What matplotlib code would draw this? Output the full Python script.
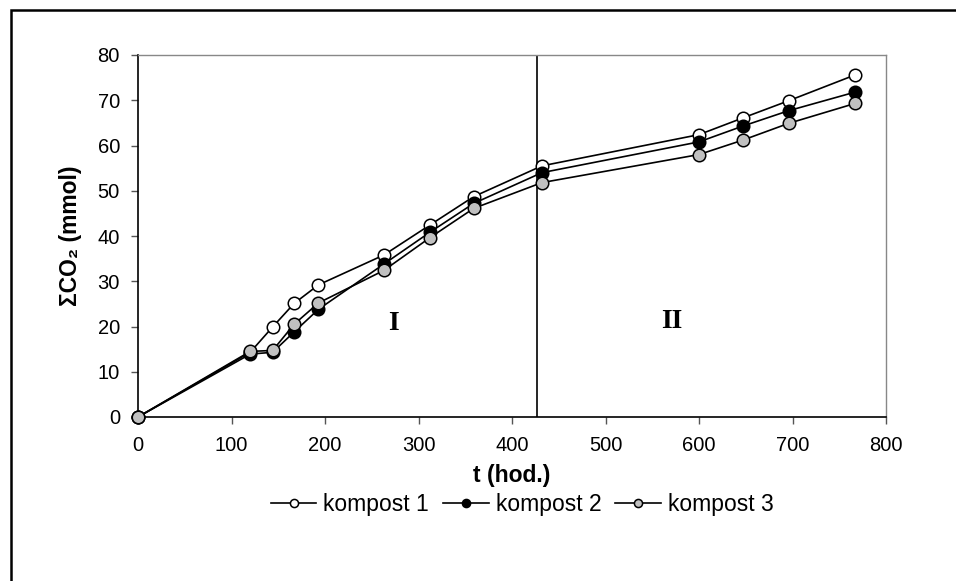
import matplotlib
matplotlib.use("Agg")
import matplotlib.pyplot as plt
from matplotlib.patches import Rectangle

# cas (hod.) a kumulativni CO2 (mmol)
t_hod = [0, 120, 144, 167, 193, 263, 312, 359, 432, 600, 647, 696, 767]
kompost_1 = [0, 14.3, 19.9, 25.1, 29.2, 35.8, 42.4, 48.7, 55.5, 62.4, 66.1, 69.9, 75.6]
kompost_2 = [0, 13.9, 14.3, 18.8, 23.8, 33.8, 40.8, 47.2, 54.0, 60.8, 64.3, 67.7, 71.8]
kompost_3 = [0, 14.5, 14.7, 20.5, 25.2, 32.4, 39.6, 46.1, 51.8, 58.0, 61.2, 64.9, 69.3]
labels = ["kompost 1", "kompost 2", "kompost 3"]
fills = ["white", "black", "#c0c0c0"]
hranice_faze = 427

plt.rcParams['font.family'] = ['Liberation Sans', 'DejaVu Sans']

fig = plt.figure(figsize=(9.56, 5.81), dpi=100)
ax = fig.add_axes([138 / 956, 1 - 417 / 581, 748 / 956, 362 / 581])

for y, fc, lab in zip([kompost_1, kompost_2, kompost_3], fills, labels):
    ax.plot(t_hod, y, color='black', lw=1.2, marker='o', ms=9,
            mfc=fc, mec='black', mew=1.1, label=lab, clip_on=False, zorder=3)

ax.axvline(hranice_faze, color='black', lw=1.2, zorder=2)
ax.text(273, 20.7, "I", family='Liberation Serif', fontweight='bold',
        fontsize=20, ha='center', va='center')
ax.text(571, 21.1, "II", family='Liberation Serif', fontweight='bold',
        fontsize=20, ha='center', va='center')

ax.set_xlim(0, 800)
ax.set_ylim(0, 80)
ax.set_xticks(range(0, 801, 100))
ax.set_yticks(range(0, 81, 10))
ax.tick_params(labelsize=14.5, length=5, width=1, color='#555555')
ax.tick_params(axis='x', pad=9)
ax.tick_params(axis='y', pad=8)

for s in ['left', 'bottom']:
    ax.spines[s].set_color('black')
    ax.spines[s].set_linewidth(1.2)
for s in ['top', 'right']:
    ax.spines[s].set_color('#888888')
    ax.spines[s].set_linewidth(1)

ax.set_xlabel("t (hod.)", fontsize=16.5, fontweight='bold', labelpad=6)
ax.set_ylabel("ΣCO₂ (mmol)", fontsize=16.5, fontweight='bold', labelpad=11)

fig.legend(loc='center', bbox_to_anchor=(522 / 956, 1 - 505 / 581), ncol=3,
           frameon=False, fontsize=16.5, markerscale=0.65, handlelength=2.0,
           handletextpad=0.3, columnspacing=0.6)

# ramecek kolem obrazku
fig.patches.append(Rectangle((11 / 956, -0.05), 1.1, 1 - 10 / 581 + 0.05,
                             transform=fig.transFigure, fill=False,
                             edgecolor='black', lw=1.8))

fig.savefig("out.png", dpi=100)
